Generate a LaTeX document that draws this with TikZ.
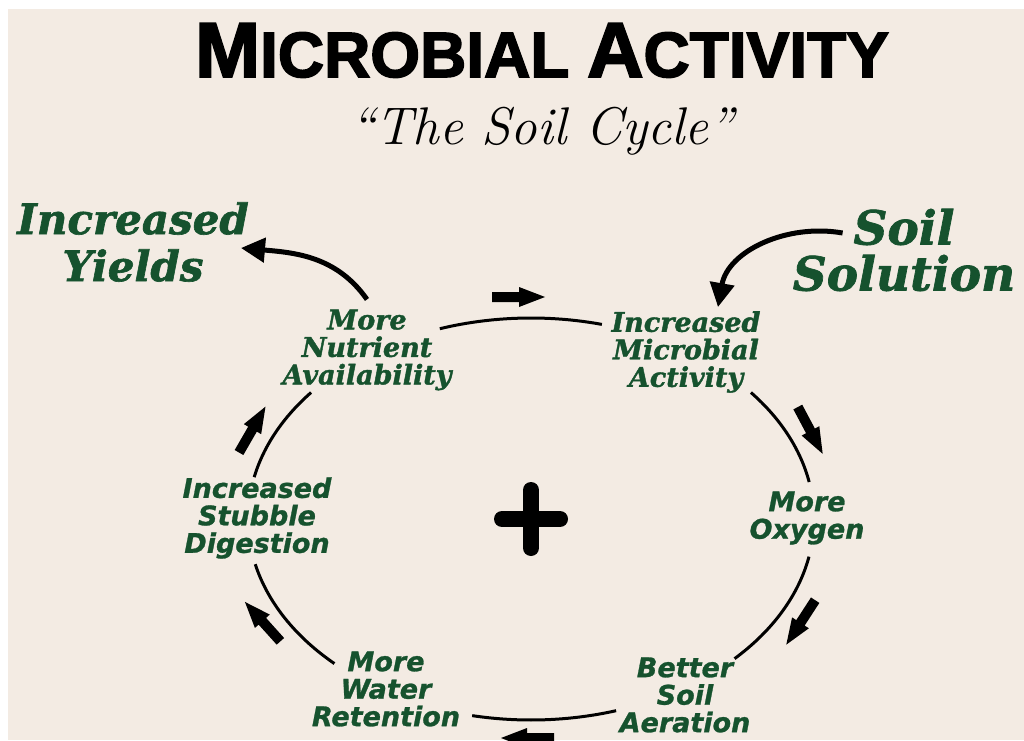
\documentclass[tikz,border=0pt]{standalone}
\usepackage{fontspec}
\newfontfamily\titlefont{Liberation Sans}[BoldFeatures={FakeBold=2.5}]
\newfontfamily\cooperfont{DejaVu Serif}[BoldItalicFeatures={FakeBold=1.5}]
\newfontfamily\condfont{DejaVu Sans}[BoldItalicFeatures={FakeBold=1}]
\usepackage{tikz}
\usetikzlibrary{arrows.meta, positioning}
\definecolor{soilgreen}{RGB}{22, 82, 46}
\definecolor{paper}{RGB}{243, 235, 227}
\newcommand{\titlecap}[1]{{\fontsize{78pt}{80pt}\selectfont #1}}

\begin{document}
\begin{tikzpicture}[
  x=1pt, y=1pt,
  cycletext/.style={text=soilgreen, align=center, inner sep=0pt,
              font=\cooperfont\bfseries\itshape\fontsize{27}{27.5}\selectfont},
  cyclesans/.style={cycletext,
              font=\condfont\bfseries\itshape\fontsize{27}{27.5}\selectfont},
  outcome/.style={text=soilgreen, align=center, inner sep=0pt,
              font=\cooperfont\bfseries\itshape\fontsize{42}{47}\selectfont},
  ring/.style={line width=3pt},
  bigarrow/.style={line width=5pt, -{Triangle[length=24pt, width=24pt]}},
  flow/.pic={\fill (-26,-5) -- (1,-5) -- (1,-10) -- (27,0) -- (1,10) -- (1,5)
              -- (-26,5) -- cycle;}
]
\useasboundingbox (0,0) rectangle (1024,740);
\clip (0,0) rectangle (1024,740);
\fill[white] (0,0) rectangle (1024,740);
\fill[paper] (8,0) rectangle (1024,731);

% heading
\node[anchor=base, inner sep=0pt, font=\titlefont\bfseries\fontsize{64}{66}\selectfont]
  (title) at (542,663) {\titlecap{M}ICROBIAL \titlecap{A}CTIVITY};
\node[below=29pt of title, inner sep=0pt, font=\itshape\fontsize{53}{56}\selectfont]
  (subtitle) {``The Soil Cycle''};

% the cycle
\coordinate (hub) at (531,221);
\node[cycletext] (nut) at (367,390) {More\\Nutrient\\Availability};
\node[cycletext] (mic) at (686,388) {Increased\\Microbial\\Activity};
\node[cyclesans] (oxy) at (807,222) {More\\Oxygen};
\node[cyclesans] (aer) at (685,45)  {Better\\Soil\\Aeration};
\node[cyclesans] (wat) at (386,51)  {More\\Water\\Retention};
\node[cyclesans] (stu) at (257,222) {Increased\\Stubble\\Digestion};

\draw[ring] (hub) ++(108.8:283 and 201) arc[start angle=108.8, end angle=75.5, x radius=283, y radius=201];
\draw[ring] (hub) ++(39:283 and 201) arc[start angle=39, end angle=10.6, x radius=283, y radius=201];
\draw[ring] (hub) ++(-10.8:283 and 201) arc[start angle=-10.8, end angle=-44, x radius=283, y radius=201];
\draw[ring] (hub) ++(-72.5:283 and 201) arc[start angle=-72.5, end angle=-102, x radius=283, y radius=201];
\draw[ring] (hub) ++(-134:283 and 201) arc[start angle=-134, end angle=-167, x radius=283, y radius=201];
\draw[ring] (hub) ++(168:283 and 201) arc[start angle=168, end angle=141, x radius=283, y radius=201];

\pic at (518,443) {flow};
\pic[rotate=-62] at (810,310) {flow};
\pic[rotate=-123] at (801,118) {flow};
\pic[rotate=180] at (528,2) {flow};
\pic[rotate=132] at (263,118) {flow};
\pic[rotate=60] at (252,310) {flow};

% plus sign
\draw[line width=16pt, line cap=round] ([yshift=29]hub) -- ([yshift=-29]hub);
\draw[line width=16pt, line cap=round] ([xshift=-29]hub) -- ([xshift=29]hub);

% inputs and outputs
\node[outcome] (yields) at (133,498) {Increased\\Yields};
\node[outcome, font=\cooperfont\bfseries\itshape\fontsize{47}{46}\selectfont]
  (sol) at (904,490) {Soil\\Solution};
\draw[bigarrow] ([yshift=10pt]nut.north) to[out=125, in=-5] ([xshift=-8pt, yshift=-6pt]yields.east);
\draw[bigarrow] ([shift={(50pt,17pt)}]sol.west) to[out=170, in=80] ([xshift=32pt, yshift=4pt]mic.north);
\end{tikzpicture}
\end{document}
